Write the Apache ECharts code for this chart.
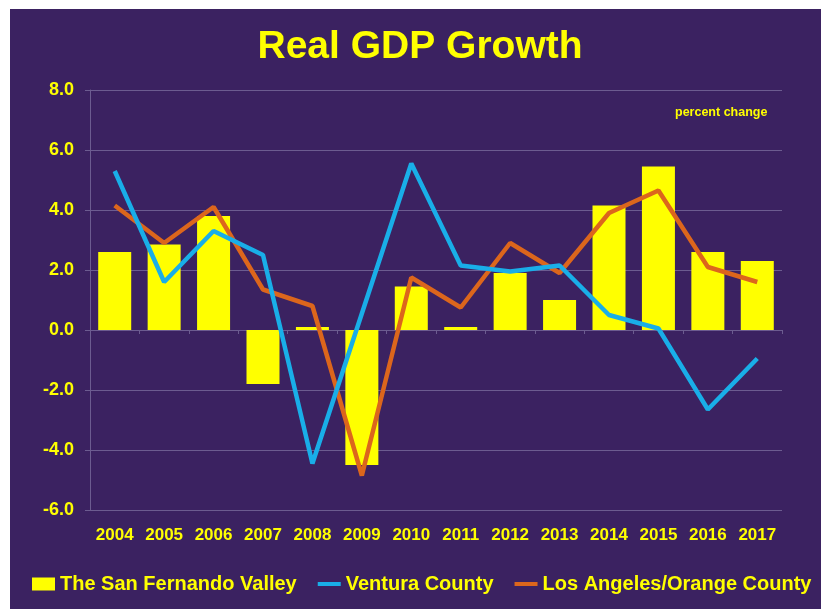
<!DOCTYPE html>
<html>
<head>
<meta charset="utf-8">
<title>Real GDP Growth</title>
<script src="https://cdn.jsdelivr.net/npm/echarts@6/dist/echarts.min.js"></script>
<style>
  html, body { margin: 0; padding: 0; background: #ffffff; }
  #chart { position: absolute; left: 10px; top: 9px; width: 811px; height: 600px; }
</style>
</head>
<body>
<div id="chart"></div>
<script>
// Years on the category axis
const years = ['2004', '2005', '2006', '2007', '2008', '2009', '2010',
               '2011', '2012', '2013', '2014', '2015', '2016', '2017'];

// Annual real GDP growth, percent change
const sanFernandoValley = [2.6, 2.85, 3.8, -1.8, 0.1, -4.5, 1.45,
                           0.1, 1.9, 1.0, 4.15, 5.45, 2.6, 2.3];
const venturaCounty = [5.3, 1.6, 3.3, 2.5, -4.45, 0.55, 5.55,
                       2.15, 1.95, 2.15, 0.5, 0.05, -2.65, -0.95];
const laOrangeCounty = [4.15, 2.9, 4.1, 1.35, 0.8, -4.85, 1.75,
                        0.75, 2.9, 1.9, 3.9, 4.65, 2.1, 1.6];

// Value axis ticks
const yTicks = { min: -6, max: 8, step: 2 };

const YELLOW = '#ffff00';
const BLUE = '#19aee8';
const ORANGE = '#dc661c';
const GRID = '#6c5c90';
const FONT = '"Liberation Sans", Arial, sans-serif';

const chart = echarts.init(document.getElementById('chart'), null, { renderer: 'canvas' });

chart.setOption({
  backgroundColor: '#3b2261',
  animation: false,
  textStyle: { fontFamily: FONT },
  graphic: [
    {
      type: 'text', x: 410, y: 38,
      style: {
        text: 'Real GDP Growth', fill: YELLOW,
        font: 'bold 39px ' + FONT,
        textAlign: 'center', textVerticalAlign: 'middle'
      }
    },
    {
      type: 'text', x: 665, y: 104,
      style: {
        text: 'percent change', fill: YELLOW,
        font: 'bold 12.5px ' + FONT,
        textAlign: 'left', textVerticalAlign: 'middle'
      }
    }
  ],
  legend: {
    left: 22, top: 565, padding: 0,
    itemWidth: 23, itemHeight: 13, itemGap: 19,
    textStyle: { color: YELLOW, fontWeight: 'bold', fontSize: 20, fontFamily: FONT },
    data: [
      { name: 'The San Fernando Valley', icon: 'rect' },
      // line entries: a thick stroke, no marker dot
      { name: 'Ventura County', itemStyle: { opacity: 0 }, lineStyle: { width: 4 } },
      { name: 'Los Angeles/Orange County', itemStyle: { opacity: 0 }, lineStyle: { width: 4 } }
    ]
  },
  grid: { left: 80, top: 81, width: 692, height: 420, containLabel: false },
  xAxis: [
    {
      type: 'category', data: years, position: 'bottom',
      axisLine: { onZero: true, lineStyle: { color: GRID, width: 1 } },
      axisTick: { show: true, length: 4, lineStyle: { color: GRID } },
      axisLabel: { show: false },
      splitLine: { show: false }
    },
    {
      type: 'category', data: years, position: 'bottom',
      axisLine: { show: false, onZero: false },
      axisTick: { show: false },
      axisLabel: { color: YELLOW, fontWeight: 'bold', fontSize: 17, margin: 17, fontFamily: FONT },
      splitLine: { show: false }
    }
  ],
  yAxis: {
    type: 'value', min: yTicks.min, max: yTicks.max, interval: yTicks.step,
    axisLine: { show: true, lineStyle: { color: GRID, width: 1 } },
    axisTick: { show: true, length: 5, lineStyle: { color: GRID } },
    axisLabel: {
      color: YELLOW, fontWeight: 'bold', fontSize: 18, margin: 16, fontFamily: FONT,
      formatter: v => v.toFixed(1)
    },
    splitLine: { show: true, lineStyle: { color: GRID, width: 1 } }
  },
  series: [
    {
      name: 'The San Fernando Valley', type: 'bar', xAxisIndex: 0,
      data: sanFernandoValley, barWidth: 33,
      itemStyle: { color: YELLOW }
    },
    {
      name: 'Los Angeles/Orange County', type: 'line', xAxisIndex: 0,
      data: laOrangeCounty, symbol: 'none', showSymbol: false,
      lineStyle: { color: ORANGE, width: 4.5 }, itemStyle: { color: ORANGE }
    },
    {
      name: 'Ventura County', type: 'line', xAxisIndex: 0,
      data: venturaCounty, symbol: 'none', showSymbol: false,
      lineStyle: { color: BLUE, width: 4.5 }, itemStyle: { color: BLUE }
    }
  ]
});
</script>
</body>
</html>
